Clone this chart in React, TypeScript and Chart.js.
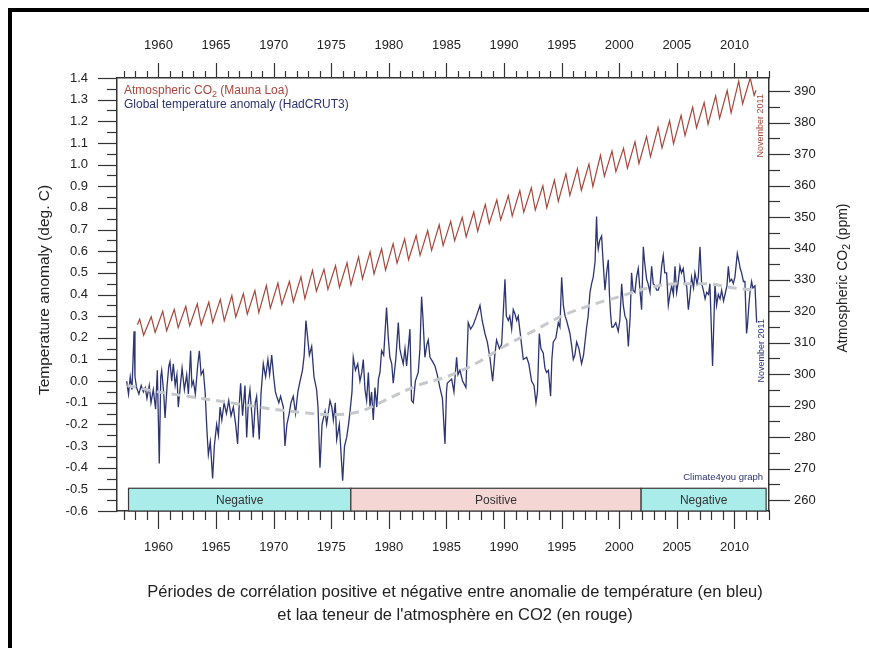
import React, { useEffect, useRef } from "react";
import { Chart, registerables } from "chart.js";

Chart.register(...registerables);

const FONT = '"Liberation Sans", Arial, Helvetica, sans-serif';

// ---- tick labels ----
const yearTicks = [1960, 1965, 1970, 1975, 1980, 1985, 1990, 1995, 2000, 2005, 2010];
const tempTicks = [-0.6, -0.5, -0.4, -0.3, -0.2, -0.1, 0, 0.1, 0.2, 0.3, 0.4, 0.5, 0.6, 0.7, 0.8, 0.9, 1.0, 1.1, 1.2, 1.3, 1.4];
const co2Ticks = [260, 270, 280, 290, 300, 310, 320, 330, 340, 350, 360, 370, 380, 390];

// ---- Atmospheric CO2 (Mauna Loa): yearly May maximum and autumn minimum ----
const co2Years = [
  1958, 1959, 1960, 1961, 1962, 1963, 1964, 1965, 1966, 1967,
  1968, 1969, 1970, 1971, 1972, 1973, 1974, 1975, 1976, 1977,
  1978, 1979, 1980, 1981, 1982, 1983, 1984, 1985, 1986, 1987,
  1988, 1989, 1990, 1991, 1992, 1993, 1994, 1995, 1996, 1997,
  1998, 1999, 2000, 2001, 2002, 2003, 2004, 2005, 2006, 2007,
  2008, 2009, 2010, 2011,
];
const co2MayPeak = [
  317.5, 318.3, 320.0, 320.6, 321.6, 322.4, 322.9, 323.8, 325.0, 325.6,
  326.6, 328.2, 329.0, 329.5, 331.0, 333.0, 333.4, 334.5, 335.4, 337.3,
  338.9, 339.9, 341.5, 343.0, 344.1, 345.7, 347.5, 348.6, 349.9, 351.6,
  354.0, 355.4, 356.8, 358.4, 359.3, 359.9, 361.7, 363.7, 365.4, 366.8,
  369.6, 371.0, 371.8, 373.9, 375.6, 378.5, 380.6, 382.3, 384.9, 386.4,
  388.5, 390.2, 393.2, 394.2,
];
const co2AutumnLow = [
  312.4, 313.3, 313.8, 314.8, 315.4, 315.7, 316.5, 317.0, 318.2, 319.1,
  319.6, 321.0, 322.2, 323.0, 324.0, 326.4, 327.0, 327.6, 328.4, 330.3,
  331.9, 333.1, 335.3, 336.4, 337.8, 339.4, 340.9, 342.5, 343.7, 345.5,
  347.9, 349.1, 350.3, 351.5, 352.2, 352.9, 355.0, 356.9, 358.5, 359.7,
  363.0, 364.4, 365.5, 367.0, 369.2, 372.0, 373.3, 375.9, 378.4, 379.5,
  381.4, 383.1, 386.0, 388.7,
];
const MAY = 0.37;
const AUTUMN = 0.71;
const co2FirstPoint = { x: 1958.17, y: 315.7 };
const co2LastPoint = { x: 2011.87, y: 390.3 };

// ---- Global temperature anomaly (HadCRUT3) ----
const tempYears = [
  1957.24, 1957.40, 1957.55, 1957.70, 1957.88, 1957.96, 1958.10, 1958.30, 1958.50, 1958.69, 1958.85,
  1959.00, 1959.20, 1959.35, 1959.55, 1959.75, 1959.90, 1960.07, 1960.20, 1960.28, 1960.45, 1960.57, 1960.75, 1960.90,
  1961.00, 1961.15, 1961.29, 1961.45, 1961.60, 1961.72, 1961.90, 1962.05, 1962.25, 1962.45, 1962.60, 1962.79, 1962.90,
  1963.03, 1963.20, 1963.40, 1963.55, 1963.70, 1963.89, 1964.05, 1964.20, 1964.33, 1964.50, 1964.70, 1964.85,
  1965.05, 1965.20, 1965.35, 1965.50, 1965.70, 1965.90, 1966.10, 1966.30, 1966.50, 1966.70, 1966.87,
  1967.00, 1967.13, 1967.30, 1967.51, 1967.66, 1967.80, 1967.94, 1968.10, 1968.23, 1968.40, 1968.52, 1968.75, 1968.90,
  1969.10, 1969.30, 1969.50, 1969.65, 1969.83, 1970.00, 1970.15, 1970.26, 1970.45, 1970.60, 1970.84, 1970.98,
  1971.15, 1971.35, 1971.50, 1971.70, 1971.90, 1972.10, 1972.29, 1972.50, 1972.65, 1972.80, 1972.95,
  1973.10, 1973.30, 1973.50, 1973.73, 1973.85, 1974.02, 1974.20, 1974.46, 1974.60, 1974.89,
  1975.05, 1975.18, 1975.35, 1975.47, 1975.70, 1975.99, 1976.15, 1976.34, 1976.50, 1976.63, 1976.80, 1976.91,
  1977.10, 1977.30, 1977.49, 1977.65, 1977.78, 1977.93, 1978.07, 1978.22, 1978.36, 1978.50, 1978.65, 1978.79, 1978.95,
  1979.10, 1979.23, 1979.37, 1979.55, 1979.80, 1979.95, 1980.09, 1980.25, 1980.38, 1980.60, 1980.82, 1980.95,
  1981.11, 1981.25, 1981.40, 1981.54, 1981.83, 1981.97, 1982.12, 1982.30, 1982.55, 1982.70, 1982.84, 1982.95,
  1983.13, 1983.30, 1983.42, 1983.57, 1983.80, 1984.00, 1984.20, 1984.43, 1984.65, 1984.87, 1985.00, 1985.07, 1985.25, 1985.45, 1985.65, 1985.88,
  1986.00, 1986.17, 1986.40, 1986.69, 1986.89, 1987.10, 1987.33, 1987.60, 1987.91, 1988.10, 1988.34, 1988.55, 1988.77,
  1989.01, 1989.20, 1989.35, 1989.60, 1989.79, 1990.08, 1990.20, 1990.37, 1990.50, 1990.66, 1990.80, 1990.95,
  1991.10, 1991.23, 1991.45, 1991.67, 1991.96, 1992.15, 1992.39, 1992.60, 1992.77, 1992.90,
  1993.06, 1993.20, 1993.40, 1993.55, 1993.69, 1993.85, 1994.04, 1994.15, 1994.27, 1994.50, 1994.71, 1994.85,
  1995.00, 1995.15, 1995.30, 1995.43, 1995.72, 1995.90, 1996.01, 1996.15, 1996.30, 1996.50, 1996.73, 1996.90,
  1997.17, 1997.30, 1997.46, 1997.60, 1997.74, 1997.90, 1998.03, 1998.10, 1998.18, 1998.30, 1998.47, 1998.60, 1998.76, 1998.90,
  1999.05, 1999.15, 1999.25, 1999.35, 1999.48, 1999.70, 1999.91,
  2000.05, 2000.21, 2000.35, 2000.50, 2000.65, 2000.79, 2000.95, 2001.07, 2001.20, 2001.36, 2001.50, 2001.65, 2001.80, 2001.94,
  2002.09, 2002.20, 2002.38, 2002.50, 2002.67, 2002.81, 2002.95, 2003.10, 2003.25, 2003.39, 2003.55, 2003.68, 2003.82, 2003.95,
  2004.11, 2004.26, 2004.40, 2004.55, 2004.70, 2004.84, 2004.98, 2005.10, 2005.27, 2005.40, 2005.56, 2005.70, 2005.85,
  2006.00, 2006.15, 2006.28, 2006.45, 2006.57, 2006.75, 2006.86, 2007.01, 2007.15, 2007.30, 2007.45, 2007.59, 2007.75, 2007.87,
  2008.10, 2008.20, 2008.31, 2008.45, 2008.60, 2008.75, 2008.89, 2009.05, 2009.18, 2009.35, 2009.47, 2009.60, 2009.76, 2009.90,
  2010.04, 2010.25, 2010.40, 2010.50, 2010.62, 2010.78, 2010.91, 2011.05, 2011.12, 2011.25, 2011.35, 2011.49, 2011.60, 2011.78, 2011.93,
];
const tempAnomaly = [
  0.00, -0.06, 0.02, -0.04, 0.23, 0.02, -0.03, -0.06, -0.02, -0.05, -0.03,
  -0.08, -0.02, -0.10, -0.04, -0.13, 0.05, -0.38, 0.02, 0.05, -0.05, -0.17, -0.02, 0.07,
  0.09, 0.00, 0.08, -0.02, 0.03, -0.12, -0.02, 0.06, -0.04, 0.03, -0.06, 0.14, -0.02,
  0.00, -0.06, 0.07, 0.14, 0.03, 0.05, -0.05, -0.22, -0.34, -0.28, -0.45, -0.30,
  -0.20, -0.25, -0.12, -0.18, -0.10, -0.15, -0.09, -0.16, -0.12, -0.20, -0.29,
  -0.12, -0.01, -0.16, -0.02, -0.26, -0.10, -0.04, -0.15, -0.26, -0.10, -0.07, -0.27, -0.06,
  0.08, 0.02, 0.10, 0.03, 0.12, 0.02, -0.05, -0.07, -0.10, -0.07, -0.12, -0.30,
  -0.20, -0.15, -0.10, -0.07, -0.15, -0.05, 0.00, 0.05, 0.12, 0.28, 0.20,
  0.12, 0.16, 0.02, -0.04, -0.12, -0.40, -0.20, -0.14, -0.20, -0.09,
  -0.12, -0.18, -0.10, -0.27, -0.20, -0.46, -0.30, -0.26, -0.20, -0.14, -0.05, 0.11,
  0.05, 0.08, 0.00, 0.04, 0.10, -0.04, -0.09, 0.04, -0.12, -0.05, -0.18, -0.03, -0.12,
  0.01, 0.04, 0.14, 0.12, 0.34, 0.20, 0.11, 0.08, -0.01, 0.10, 0.27, 0.15,
  0.11, 0.08, 0.15, 0.07, 0.24, -0.09, -0.10, 0.00, 0.04, 0.15, 0.39, 0.30,
  0.11, 0.17, 0.19, 0.11, 0.09, 0.07, 0.03, -0.03, -0.08, -0.29, -0.05, -0.01, 0.00, 0.01, -0.05, 0.11,
  0.03, 0.05, 0.00, -0.03, 0.27, 0.24, 0.26, 0.30, 0.35, 0.28, 0.22, 0.18, 0.11,
  0.00, 0.12, 0.19, 0.15, 0.17, 0.47, 0.30, 0.28, 0.30, 0.24, 0.33, 0.31,
  0.28, 0.30, 0.20, 0.10, 0.11, 0.08, 0.00, -0.02, -0.10, -0.05,
  0.22, 0.15, 0.13, 0.06, 0.04, 0.05, -0.07, 0.10, 0.18, 0.20, 0.27, 0.25,
  0.48, 0.35, 0.30, 0.28, 0.22, 0.15, 0.10, 0.12, 0.18, 0.15, 0.08, 0.12,
  0.25, 0.30, 0.41, 0.45, 0.48, 0.55, 0.76, 0.65, 0.61, 0.65, 0.67, 0.55, 0.42, 0.50,
  0.56, 0.40, 0.31, 0.25, 0.25, 0.27, 0.23,
  0.28, 0.45, 0.35, 0.30, 0.28, 0.16, 0.30, 0.50, 0.42, 0.41, 0.48, 0.52, 0.42, 0.33,
  0.62, 0.55, 0.47, 0.45, 0.41, 0.53, 0.45, 0.44, 0.42, 0.42, 0.45, 0.53, 0.58, 0.50,
  0.50, 0.35, 0.40, 0.44, 0.40, 0.53, 0.41, 0.45, 0.53, 0.50, 0.52, 0.45, 0.44,
  0.33, 0.40, 0.48, 0.43, 0.50, 0.45, 0.48, 0.62, 0.45, 0.42, 0.38, 0.41, 0.40, 0.45,
  0.07, 0.25, 0.45, 0.35, 0.40, 0.38, 0.42, 0.37, 0.40, 0.44, 0.53, 0.46, 0.47, 0.45,
  0.48, 0.59, 0.55, 0.52, 0.50, 0.46, 0.46, 0.22, 0.25, 0.35, 0.41, 0.46, 0.43, 0.44, 0.27,
];

// ---- smoothed temperature (dashed grey) ----
const trendYears = [1957.3, 1960, 1962.5, 1965, 1967.5, 1970, 1972.5, 1975, 1977.5, 1980, 1982.5, 1985, 1987.5, 1990, 1992.5, 1995, 1997.5, 2000, 2002.5, 2005, 2007.5, 2010, 2011.9];
const trendAnomaly = [-0.02, -0.05, -0.07, -0.09, -0.11, -0.13, -0.145, -0.155, -0.14, -0.08, -0.02, 0.02, 0.08, 0.16, 0.23, 0.30, 0.35, 0.39, 0.43, 0.45, 0.45, 0.43, 0.42];

// ---- correlation periods ----
const bandStart = [1957.4, 1976.7, 2001.9];
const bandEnd = [1976.7, 2001.9, 2012.75];
const bandLabel = ["Negative", "Positive", "Negative"];
const bandColor = ["#a9ecea", "#f4d7d5", "#a9ecea"];
const bandLow = -0.6;
const bandHigh = -0.495;

const X_MIN = 1956.4;
const X_MAX = 2013.0;

const RED = "#a8463b";
const BLUE = "#2c3472";

function textParts(ctx: CanvasRenderingContext2D, parts: [string, boolean][], x: number, y: number, size: number, align: "left" | "center") {
  const widths = parts.map(([t, sub]) => {
    ctx.font = `${sub ? size * 0.75 : size}px ${FONT}`;
    return ctx.measureText(t).width;
  });
  const total = widths.reduce((a, b) => a + b, 0);
  let cx = align === "center" ? x - total / 2 : x;
  ctx.textAlign = "left";
  ctx.textBaseline = "middle";
  parts.forEach(([t, sub], i) => {
    ctx.font = `${sub ? size * 0.75 : size}px ${FONT}`;
    ctx.fillText(t, cx, sub ? y + size * 0.3 : y);
    cx += widths[i];
  });
}

const decor = {
  id: "decor",
  beforeDraw(chart: any) {
    const { ctx, width, height } = chart;
    ctx.save();
    ctx.fillStyle = "#ffffff";
    ctx.fillRect(0, 0, width, height);
    ctx.fillStyle = "#000000";
    ctx.fillRect(8, 8, width - 8, 4);
    ctx.fillRect(8, 8, 4, height - 8);
    ctx.restore();
  },
  beforeDatasetsDraw(chart: any) {
    const { ctx } = chart;
    const xs = chart.scales.x;
    const ys = chart.scales.yT;
    ctx.save();
    const yTop = ys.getPixelForValue(bandHigh);
    const yBot = ys.getPixelForValue(bandLow);
    bandStart.forEach((s, i) => {
      const x0 = xs.getPixelForValue(s);
      const x1 = xs.getPixelForValue(bandEnd[i]);
      ctx.fillStyle = bandColor[i];
      ctx.fillRect(x0, yTop, x1 - x0, yBot - yTop);
      ctx.strokeStyle = "#3a3a3a";
      ctx.lineWidth = 1.2;
      ctx.strokeRect(x0, yTop, x1 - x0, yBot - yTop);
      ctx.fillStyle = "#333";
      ctx.font = `12px ${FONT}`;
      ctx.textAlign = "center";
      ctx.textBaseline = "middle";
      ctx.fillText(bandLabel[i], (x0 + x1) / 2, (yTop + yBot) / 2 + 1);
    });
    ctx.restore();
  },
  afterDraw(chart: any) {
    const { ctx, chartArea: ca } = chart;
    const xs = chart.scales.x;
    const yT = chart.scales.yT;
    const yC = chart.scales.yC;
    ctx.save();
    ctx.strokeStyle = "#333";
    ctx.lineWidth = 1.2;
    const line = (a: number, b: number, c: number, d: number) => {
      ctx.beginPath();
      ctx.moveTo(a, b);
      ctx.lineTo(c, d);
      ctx.stroke();
    };
    // year ticks (top & bottom)
    for (let yr = Math.ceil(X_MIN); yr <= Math.floor(X_MAX); yr++) {
      const px = Math.round(xs.getPixelForValue(yr)) + 0.5;
      const major = yr % 5 === 0;
      line(px, ca.top, px, ca.top - (major ? 15 : 7));
      line(px, ca.bottom, px, ca.bottom + (major ? 18 : 9));
    }
    // temperature ticks (left)
    for (let i = -12; i <= 28; i++) {
      const py = Math.round(yT.getPixelForValue(i * 0.05)) + 0.5;
      line(ca.left, py, ca.left - (i % 2 === 0 ? 19 : 10), py);
    }
    // CO2 ticks (right)
    for (let v = 260; v <= 390; v += 5) {
      const py = Math.round(yC.getPixelForValue(v)) + 0.5;
      line(ca.right, py, ca.right + (v % 10 === 0 ? 21 : 11), py);
    }

    // legend text
    ctx.fillStyle = RED;
    textParts(ctx, [["Atmospheric CO", false], ["2", true], [" (Mauna Loa)", false]], ca.left + 7, ca.top + 13, 12, "left");
    ctx.fillStyle = BLUE;
    textParts(ctx, [["Global temperature anomaly (HadCRUT3)", false]], ca.left + 7, ca.top + 27, 12, "left");

    // axis titles
    ctx.fillStyle = "#222";
    ctx.save();
    ctx.translate(45, 290);
    ctx.rotate(-Math.PI / 2);
    textParts(ctx, [["Temperature anomaly (deg. C)", false]], 0, 0, 15.5, "center");
    ctx.restore();
    ctx.save();
    ctx.translate(843, 278);
    ctx.rotate(-Math.PI / 2);
    textParts(ctx, [["Atmospheric CO", false], ["2", true], [" (ppm)", false]], 0, 0, 14, "center");
    ctx.restore();

    // November 2011 notes
    ctx.save();
    ctx.translate(ca.right - 8, yC.getPixelForValue(379));
    ctx.rotate(-Math.PI / 2);
    ctx.fillStyle = RED;
    textParts(ctx, [["November 2011", false]], 0, 0, 9, "center");
    ctx.restore();
    ctx.save();
    ctx.translate(ca.right - 7, yT.getPixelForValue(0.14));
    ctx.rotate(-Math.PI / 2);
    ctx.fillStyle = BLUE;
    textParts(ctx, [["November 2011", false]], 0, 0, 9, "center");
    ctx.restore();

    // credit
    ctx.fillStyle = BLUE;
    ctx.font = `9.5px ${FONT}`;
    ctx.textAlign = "right";
    ctx.textBaseline = "middle";
    ctx.fillText("Climate4you graph", ca.right - 6, yT.getPixelForValue(-0.445));

    // caption
    ctx.fillStyle = "#222";
    ctx.font = `16.5px ${FONT}`;
    ctx.textAlign = "center";
    ctx.fillText("Périodes de corrélation positive et négative entre anomalie de température (en bleu)", 455, 592);
    ctx.fillText("et laa teneur de l'atmosphère en CO2 (en rouge)", 455, 615);
    ctx.restore();
  },
};

export default function App() {
  const ref = useRef<HTMLCanvasElement>(null);
  useEffect(() => {
    const canvas = ref.current;
    if (!canvas) return;

    const co2Points: { x: number; y: number }[] = [co2FirstPoint];
    co2Years.forEach((yr, i) => {
      co2Points.push({ x: yr + MAY, y: co2MayPeak[i] });
      co2Points.push({ x: yr + AUTUMN, y: co2AutumnLow[i] });
    });
    co2Points.push(co2LastPoint);

    const tempPoints = tempYears.map((x, i) => ({ x, y: tempAnomaly[i] }));
    const trendPoints = trendYears.map((x, i) => ({ x, y: trendAnomaly[i] }));

    const tickFont = { family: FONT, size: 13 };
    const commonAxis = {
      grid: { display: false, drawTicks: false },
      border: { display: true, color: "#333", width: 1.5 },
    };

    const chart = new Chart(canvas, {
      type: "scatter",
      data: {
        datasets: [
          {
            label: "trend",
            data: trendPoints,
            xAxisID: "x",
            yAxisID: "yT",
            showLine: true,
            borderColor: "#c6c9cc",
            borderWidth: 3,
            borderDash: [9, 6],
            pointRadius: 0,
            tension: 0.4,
            cubicInterpolationMode: "monotone",
          },
          {
            label: "Global temperature anomaly (HadCRUT3)",
            data: tempPoints,
            xAxisID: "x",
            yAxisID: "yT",
            showLine: true,
            borderColor: BLUE,
            borderWidth: 1.3,
            pointRadius: 0,
            tension: 0,
          },
          {
            label: "Atmospheric CO2 (Mauna Loa)",
            data: co2Points,
            xAxisID: "x",
            yAxisID: "yC",
            showLine: true,
            borderColor: RED,
            borderWidth: 1.2,
            pointRadius: 0,
            tension: 0,
          },
        ],
      },
      options: {
        responsive: false,
        animation: false,
        events: [],
        layout: { padding: 0 },
        plugins: {
          legend: { display: false },
          tooltip: { enabled: false },
          title: { display: false },
        },
        scales: {
          x: {
            type: "linear",
            position: "bottom",
            min: X_MIN,
            max: X_MAX,
            ...commonAxis,
            afterBuildTicks: (s: any) => {
              s.ticks = yearTicks.map((v) => ({ value: v }));
            },
            afterFit: (s: any) => {
              s.height = 137;
            },
            ticks: {
              padding: 29,
              autoSkip: false,
              maxRotation: 0,
              font: tickFont,
              color: "#222",
              callback: (v: any) => String(v),
            },
          },
          x2: {
            type: "linear",
            position: "top",
            axis: "x",
            min: X_MIN,
            max: X_MAX,
            ...commonAxis,
            afterBuildTicks: (s: any) => {
              s.ticks = yearTicks.map((v) => ({ value: v }));
            },
            afterFit: (s: any) => {
              s.height = 78;
            },
            ticks: {
              padding: 25,
              autoSkip: false,
              maxRotation: 0,
              font: tickFont,
              color: "#222",
              callback: (v: any) => String(v),
            },
          },
          yT: {
            type: "linear",
            position: "left",
            min: -0.6,
            max: 1.4,
            ...commonAxis,
            afterBuildTicks: (s: any) => {
              s.ticks = tempTicks.map((v) => ({ value: v }));
            },
            afterFit: (s: any) => {
              s.width = 117;
            },
            ticks: {
              padding: 29,
              autoSkip: false,
              font: tickFont,
              color: "#222",
              callback: (v: any) => Number(v).toFixed(1),
            },
          },
          yC: {
            type: "linear",
            position: "right",
            min: 256.5,
            max: 394.2,
            ...commonAxis,
            afterBuildTicks: (s: any) => {
              s.ticks = co2Ticks.map((v) => ({ value: v }));
            },
            afterFit: (s: any) => {
              s.width = 100;
            },
            ticks: {
              padding: 25,
              autoSkip: false,
              font: tickFont,
              color: "#222",
              callback: (v: any) => String(v),
            },
          },
        },
      } as any,
      plugins: [decor],
    });
    return () => chart.destroy();
  }, []);

  return (
    <div style={{ position: "fixed", left: 0, top: 0, width: 869, height: 648 }}>
      <canvas ref={ref} width={869} height={648} style={{ display: "block", width: 869, height: 648 }} />
    </div>
  );
}
